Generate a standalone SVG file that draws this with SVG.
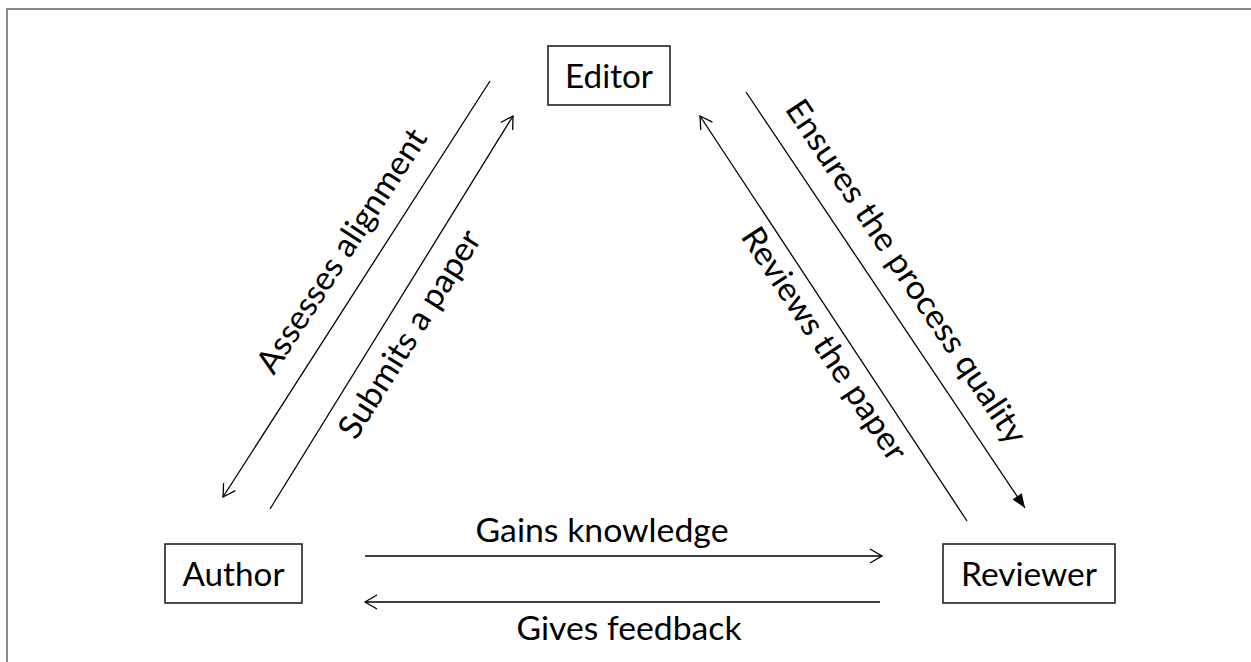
<svg xmlns="http://www.w3.org/2000/svg" width="1251" height="662" viewBox="0 0 1251 662">
<style>
.frame{fill:none;stroke:#888;stroke-width:2}
.box{fill:#fff;stroke:#222;stroke-width:1.6}
.lbl{font-family:Lato,"Liberation Sans",sans-serif;font-size:33px;fill:#000;text-anchor:middle}
.conn{stroke:#000;stroke-width:1.3;fill:none}
</style>
<defs>
<marker id="open" markerUnits="userSpaceOnUse" markerWidth="16" markerHeight="16" refX="13" refY="8" orient="auto" overflow="visible">
<path d="M1,1 L13,8 L1,15" fill="none" stroke="#000" stroke-width="1.3"/>
</marker>
<marker id="filled" markerUnits="userSpaceOnUse" markerWidth="16" markerHeight="12" refX="14" refY="5.5" orient="auto" overflow="visible">
<path d="M0,0 L14,5.5 L0,11 z" fill="#000"/>
</marker>
</defs>
<rect width="1251" height="662" fill="#fff"/>
<path class="frame" d="M7,662 L7,9 L1251,9"/>
<g id="connectors">
<line class="conn" x1="490" y1="81" x2="223" y2="497" marker-end="url(#open)"/>
<line class="conn" x1="270" y1="509" x2="513" y2="116" marker-end="url(#open)"/>
<line class="conn" x1="967" y1="521" x2="700" y2="116" marker-end="url(#open)"/>
<line class="conn" x1="746" y1="92" x2="1025" y2="508" marker-end="url(#filled)"/>
<line class="conn" x1="365" y1="556" x2="882" y2="556" marker-end="url(#open)"/>
<line class="conn" x1="880" y1="602" x2="365" y2="602" marker-end="url(#open)"/>
<text class="lbl" transform="translate(351,257) rotate(-57)" textLength="284" lengthAdjust="spacingAndGlyphs">Assesses alignment</text>
<text class="lbl" transform="translate(419,340) rotate(-58)" textLength="239" lengthAdjust="spacingAndGlyphs">Submits a paper</text>
<text class="lbl" transform="translate(897,278) rotate(56.3)" textLength="406" lengthAdjust="spacingAndGlyphs">Ensures the process quality</text>
<text class="lbl" transform="translate(815,350) rotate(56.5)" textLength="272" lengthAdjust="spacingAndGlyphs">Reviews the paper</text>
<text class="lbl" x="602" y="542" textLength="253" lengthAdjust="spacingAndGlyphs">Gains knowledge</text>
<text class="lbl" x="629" y="640" textLength="225" lengthAdjust="spacingAndGlyphs">Gives feedback</text>
</g>
<g id="editor">
<rect class="box" x="548" y="46" width="122" height="59"/>
<text class="lbl" x="609" y="88" textLength="88" lengthAdjust="spacingAndGlyphs">Editor</text>
</g>
<g id="author">
<rect class="box" x="165" y="544" width="137" height="59"/>
<text class="lbl" x="233.5" y="586" textLength="102" lengthAdjust="spacingAndGlyphs">Author</text>
</g>
<g id="reviewer">
<rect class="box" x="943" y="544" width="172" height="59"/>
<text class="lbl" x="1029" y="586" textLength="136" lengthAdjust="spacingAndGlyphs">Reviewer</text>
</g>
</svg>
